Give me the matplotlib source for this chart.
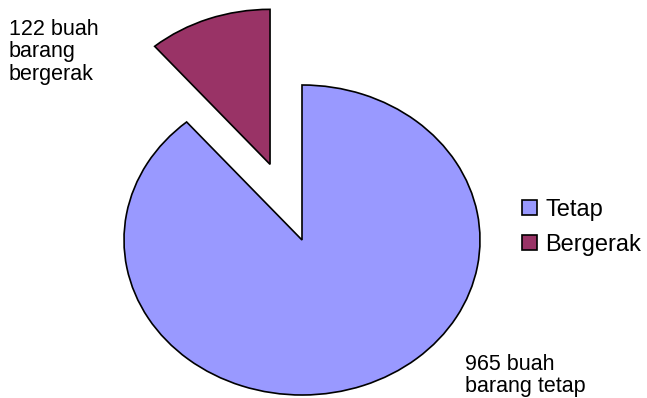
import matplotlib
matplotlib.use("Agg")
import matplotlib.pyplot as plt

# Inventory breakdown
categories = ["Tetap", "Bergerak"]
counts = [965, 122]
colors = ["#9999FF", "#993366"]
explode = [0.0, 0.52]

W, H, DPI = 647, 398, 100
plt.rcParams["font.family"] = ["Liberation Sans", "DejaVu Sans"]

fig = plt.figure(figsize=(W / DPI, H / DPI), dpi=DPI)
ax = fig.add_axes([0, 0, 1, 1])

wedges, _ = ax.pie(
    counts,
    colors=colors,
    explode=explode,
    startangle=90,
    counterclock=False,
    radius=1.0,
    center=(0, 0),
    wedgeprops=dict(edgecolor="black", linewidth=1.2),
)

# Elliptical pie: independent scales on x and y
cx, cy, rx, ry = 302, 240, 178, 155
ax.set_aspect("auto")
ax.set_xlim(-cx / rx, (W - cx) / rx)
ax.set_ylim(-(H - cy) / ry, cy / ry)
ax.axis("off")

fig.text(9 / W, 1 - 19 / H, f"{counts[1]} buah\nbarang\nbergerak",
         ha="left", va="top", fontsize=15.5, linespacing=1.08)
fig.text(465 / W, 1 - 354 / H, f"{counts[0]} buah\nbarang tetap",
         ha="left", va="top", fontsize=15.5, linespacing=1.05)

ax.legend(wedges, categories, loc="upper left",
          bbox_to_anchor=(522 / W, 1 - 199 / H), bbox_transform=fig.transFigure,
          frameon=False, fontsize=17, handlelength=0.64, handleheight=0.56,
          handletextpad=0.36, labelspacing=0.55, borderpad=0, borderaxespad=0)

fig.savefig("out.png", dpi=DPI)
